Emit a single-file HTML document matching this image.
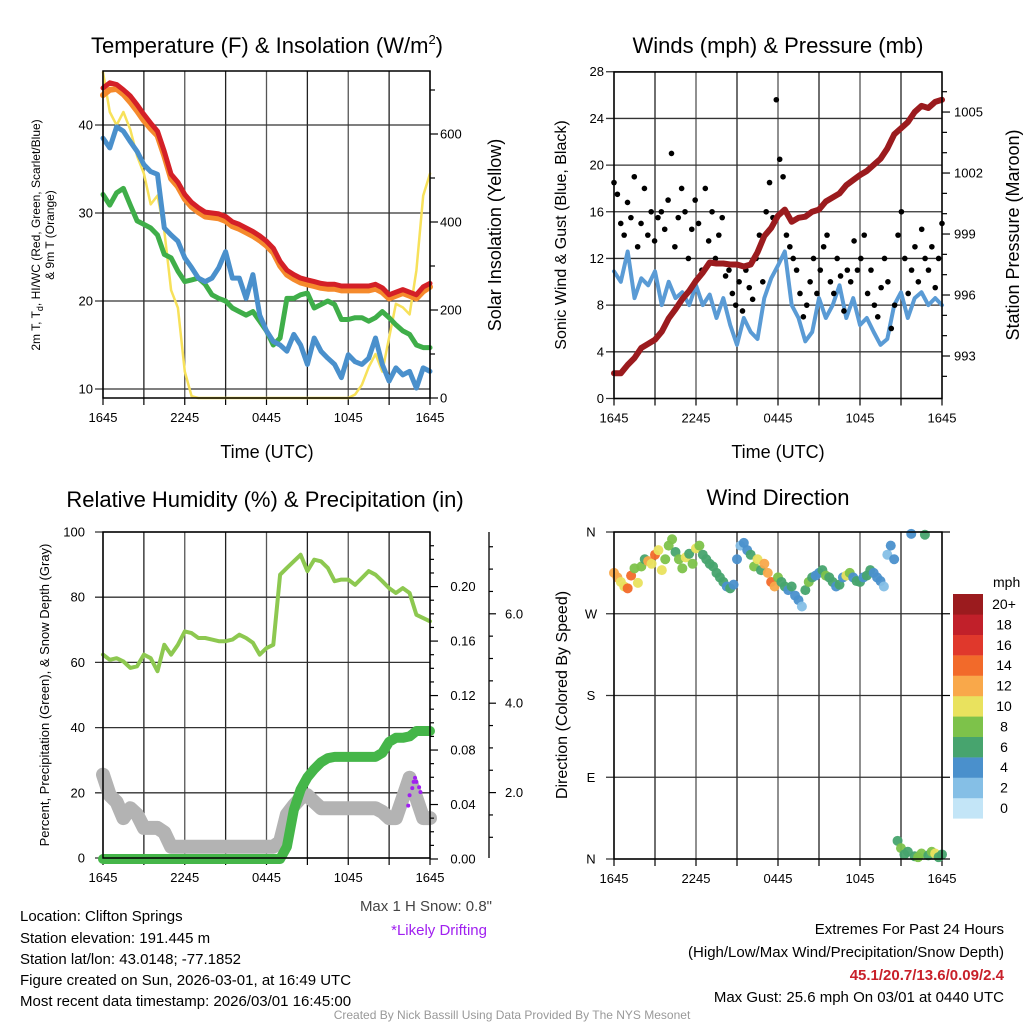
<!DOCTYPE html>
<html><head><meta charset="utf-8">
<style>
html,body{margin:0;padding:0;background:#fff;}
svg{display:block;font-family:"Liberation Sans",Arial,sans-serif;}
</style></head>
<body>
<svg id="fig" width="1024" height="1024" viewBox="0 0 1024 1024" xmlns="http://www.w3.org/2000/svg">
<rect width="1024" height="1024" fill="#fff"/>
<g id="grids"></g>
<g id="series"></g>
<g id="frames"></g>
<g id="texts" font-size="13" fill="#000">
  <text x="267" y="53" font-size="22" text-anchor="middle">Temperature (F) &amp; Insolation (W/m<tspan font-size="13" dy="-9">2</tspan><tspan dy="9">)</tspan></text>
  <text x="778" y="53" font-size="22" text-anchor="middle">Winds (mph) &amp; Pressure (mb)</text>
  <text x="265" y="507" font-size="22" text-anchor="middle">Relative Humidity (%) &amp; Precipitation (in)</text>
  <text x="778" y="505" font-size="22" text-anchor="middle">Wind Direction</text>
  <text x="267" y="458" font-size="18" text-anchor="middle">Time (UTC)</text>
  <text x="778" y="458" font-size="18" text-anchor="middle">Time (UTC)</text>
  <text transform="translate(40,235) rotate(-90)" font-size="12" text-anchor="middle">2m T, T<tspan font-size="9" dy="3">d</tspan><tspan dy="-3">, HI/WC (Red, Green, Scarlet/Blue)</tspan></text>
  <text transform="translate(54,235) rotate(-90)" font-size="12" text-anchor="middle">&amp; 9m T (Orange)</text>
  <text transform="translate(501,235) rotate(-90)" font-size="18" text-anchor="middle">Solar Insolation (Yellow)</text>
  <text transform="translate(566,235) rotate(-90)" font-size="16" text-anchor="middle">Sonic Wind &amp; Gust (Blue, Black)</text>
  <text transform="translate(1019,235) rotate(-90)" font-size="18" text-anchor="middle">Station Pressure (Maroon)</text>
  <text transform="translate(49,695) rotate(-90)" font-size="13" text-anchor="middle">Percent, Precipitation (Green), &amp; Snow Depth (Gray)</text>
  <text transform="translate(567,695) rotate(-90)" font-size="16" text-anchor="middle">Direction (Colored By Speed)</text>
  <text x="993" y="587" font-size="14">mph</text>
  <g font-size="15">
    <text x="20" y="921">Location: Clifton Springs</text>
    <text x="20" y="943">Station elevation: 191.445 m</text>
    <text x="20" y="964">Station lat/lon: 43.0148; -77.1852</text>
    <text x="20" y="985">Figure created on Sun, 2026-03-01, at 16:49 UTC</text>
    <text x="20" y="1006">Most recent data timestamp: 2026/03/01 16:45:00</text>
    <text x="492" y="911" text-anchor="end" fill="#444">Max 1 H Snow: 0.8"</text>
    <text x="487" y="935" text-anchor="end" fill="#a020f0">*Likely Drifting</text>
    <text x="1004" y="934" text-anchor="end">Extremes For Past 24 Hours</text>
    <text x="1004" y="957" text-anchor="end">(High/Low/Max Wind/Precipitation/Snow Depth)</text>
    <text x="1004" y="980" text-anchor="end" fill="#c8202a" font-weight="bold">45.1/20.7/13.6/0.09/2.4</text>
    <text x="1004" y="1002" text-anchor="end">Max Gust: 25.6 mph On 03/01 at 0440 UTC</text>
  </g>
  <text x="512" y="1019" font-size="12" text-anchor="middle" fill="#999">Created By Nick Bassill Using Data Provided By The NYS Mesonet</text>
</g>
</svg>
<script>
// ---- data (half-hourly unless noted) ----
const xTickLabels = ["1645","2245","0445","1045","1645"];
const tempTicks = [10,20,30,40];
const insolTicks = [0,200,400,600];
const windTicks = [0,4,8,12,16,20,24,28];
const presTicks = [993,996,999,1002,1005];
const pctTicks = [0,20,40,60,80,100];
const precipTicks = ["0.00","0.04","0.08","0.12","0.16","0.20"];
const snowTicks = ["2.0","4.0","6.0"];
const dirTicks = ["N","E","S","W","N"];
const speedLabels = ["0","2","4","6","8","10","12","14","16","18","20+"];
const speedColors = ["#c3e5f7","#85bfe6","#4a90cc","#47a46e","#7dc24a","#e9e25e","#f9a84a","#f26a2a","#e0382c","#c1202a","#9b1b1e"];

const tempRed = [44.2,44.8,44.6,44.0,43.3,42.3,41.2,40.2,39.3,37.0,34.4,33.5,32.1,31.2,30.6,30.1,30.0,29.9,29.6,29.0,28.7,28.3,27.9,27.4,26.8,26.0,24.5,23.5,23.0,22.6,22.4,22.2,22.0,21.9,21.9,21.7,21.7,21.7,21.7,21.7,21.9,21.5,20.7,21.0,21.3,21.0,20.7,21.6,22.0];
const temp9m = [43.4,44.0,44.1,43.5,42.6,41.6,40.5,39.6,38.8,36.5,33.9,33.0,31.6,30.7,30.1,29.6,29.5,29.4,29.1,28.5,28.2,27.8,27.4,26.9,26.3,25.5,24.0,23.0,22.5,22.1,21.9,21.7,21.5,21.4,21.4,21.2,21.2,21.2,21.2,21.2,21.4,21.0,20.3,20.6,20.9,20.6,20.3,21.1,21.6];
const windChill = [38.5,37.4,39.8,39.3,38.1,37.0,35.5,34.7,34.4,28.3,27.5,26.8,24.9,23.8,22.6,22.2,22.6,23.8,25.6,22.6,22.6,20.3,23.0,18.4,16.6,15.4,15.0,14.3,16.2,15.0,12.8,15.8,14.3,13.5,12.8,11.3,13.9,13.1,12.8,13.5,15.8,12.8,10.9,12.4,11.6,12.0,10.1,12.4,12.0];
const dewPoint = [32.1,30.9,32.3,32.8,30.9,29.1,28.7,28.3,27.5,25.3,24.9,23.4,22.2,22.4,22.6,21.9,20.7,20.3,20.0,19.2,18.8,18.4,18.8,17.7,16.6,15.0,15.8,20.3,20.3,20.7,20.9,19.2,19.6,20.0,19.6,17.9,17.9,18.1,18.1,17.7,18.1,18.8,18.1,17.3,16.6,16.2,15.0,14.7,14.7];
const insolation = [740,650,620,650,610,550,510,440,460,380,245,205,60,4,0,0,0,0,0,0,0,0,0,0,0,0,0,0,0,0,0,0,0,0,0,0,0,8,30,70,100,60,137,214,206,190,290,460,510];

const windSpeed = [10.9,10,12.6,8.6,10.3,9.7,10.9,8,10,8.6,9.1,8,9.7,8,8.9,6.9,8.6,6.3,4.6,6.9,5.7,5.1,8.6,10.3,11.4,12.6,8,6.9,4.9,5.7,8.6,6.9,8,9.7,6.9,8.6,6.3,6.9,5.7,4.6,5.1,8,9.1,6.9,8.6,9.1,8,8.6,8];
const pressure = [992.15,992.15,992.56,992.9,993.4,993.6,993.8,994.2,994.85,995.3,995.8,996.2,996.7,997.1,997.6,997.55,997.55,997.5,997.5,997.4,997.5,998.1,998.9,999.3,999.9,1000.2,999.6,999.8,999.85,1000.1,1000.2,1000.6,1000.8,1001,1001.4,1001.65,1001.9,1002.1,1002.4,1002.7,1003.2,1003.9,1004.2,1004.5,1005.0,1005.3,1005.2,1005.5,1005.6];
// gusts (15-min)
const gusts = [18.5,17.5,15,14,16.8,15.5,19,13,15,18,14,16,13.5,15.5,16,14.5,17,21,13,15.5,18,16,12,14.5,17,15,11,18,13.5,16,12,14,15.5,10.5,11,9,8,10,7.5,11,9.5,8.5,12,14,10,16,18.5,15.5,25.6,20.5,19,14,13,12,11,9,7,8,10,12,9,11,13,14,10,9,12,10.5,7.5,11,10,13.5,11,12,14,9,11,8,7,9.5,12,10,6,8,14,16,12,9,11,13,10,14.5,12,11,13,9.5,12,15];

const humidity = [62.4,60.8,61.3,60.3,58.3,58.8,62.4,61.3,57.3,65.4,62.4,65.4,69.5,69.0,67.5,67.5,67,66.5,66.5,67,68.5,67.5,66,62.4,64.4,65.4,86.9,89,91,93,88,91.5,91,89,84.9,85.4,85.4,83.8,85.9,88,86.9,84.9,82.8,81.3,82.8,81.3,74.6,73.6,72.6];
const precip = [0,0,0,0,0,0,0,0,0,0,0,0,0,0,0,0,0,0,0,0,0,0,0,0,0,0,0,0.009,0.036,0.051,0.060,0.066,0.071,0.074,0.075,0.075,0.075,0.075,0.075,0.075,0.075,0.078,0.086,0.089,0.089,0.090,0.094,0.094,0.094];
const snowDepth = [2.40,1.94,1.79,1.43,1.65,1.51,1.21,1.21,1.21,1.11,0.79,0.79,0.79,0.79,0.79,0.79,0.79,0.79,0.79,0.79,0.79,0.79,0.79,0.79,0.79,0.79,0.90,1.51,1.71,1.88,1.94,1.79,1.65,1.65,1.65,1.65,1.65,1.65,1.65,1.65,1.65,1.57,1.43,1.43,1.88,2.33,1.88,1.43,1.43];
const driftHours = [22.4,22.5,22.7,22.8,22.9,23.0,23.2,23.3];
const driftSnow = [1.71,1.94,2.10,2.24,2.33,2.24,2.12,2.01];

// wind direction (15-min)
const windDir = [315,310,305,300,298,312,320,304,322,330,328,325,335,340,318,330,345,352,338,330,320,332,336,325,342,345,335,330,325,322,315,310,305,300,298,302,330,345,348,340,335,322,330,318,325,315,305,300,310,305,300,296,300,290,285,278,296,305,310,312,315,318,312,310,305,300,302,310,312,315,310,306,305,310,312,318,315,310,306,300,335,345,330,20,12,5,8,358,3,2,6,357,4,8,6,2,5];
const dirSpeed = [12,13,11,10,14,15,9,10,8,7,12,10,14,11,10,8,9,8,7,9,8,10,7,8,10,8,7,7,7,6,7,6,6,5,6,4,4,3,4,5,7,8,10,7,12,13,15,12,8,7,6,5,6,5,4,3,7,8,6,5,5,6,8,7,6,5,7,4,10,9,5,6,6,5,7,6,4,5,4,3,3,4,5,7,8,7,6,5,7,8,9,6,7,8,10,7,7];

// ---- helpers ----
const NS = "http://www.w3.org/2000/svg";
const G = id => document.getElementById(id);
function mk(tag, attrs, parent){ const e=document.createElementNS(NS,tag); for(const k in attrs) e.setAttribute(k,attrs[k]); parent.appendChild(e); return e; }
const P1={x0:103,x1:430,top:71,bot:398};
const P2={x0:614,x1:942,top:72,bot:398.5};
const P3={x0:103,x1:430,top:532,bot:858};
const P4={x0:614,x1:942,top:532,bot:859};
const xH=(p,h)=>p.x0+h/24*(p.x1-p.x0);
const xI=(p,i,n)=>xH(p,i*24/(n-1));
const yT=v=>389-(v-10)*8.8;
const yW=v=>398-v*0.44;
const yWind=v=>398.5-v*11.67;
const yP=v=>356-(v-993)*20.33;
const yPct=v=>858-v*3.26;
const yPr=v=>859-v*1362;
const ySn=v=>882-v*44.7;
const yDir=v=>859-v/360*327;

function line(p, arr, yf, color, w, name, cap){
  const pts=arr.map((v,i)=>xI(p,i,arr.length).toFixed(1)+","+yf(v).toFixed(1)).join(" ");
  const el=mk("polyline",{points:pts,fill:"none",stroke:color,"stroke-width":w,"stroke-linejoin":"round","stroke-linecap":cap||"round"},G("series"));
  
  
  return el;
}

// ---- grids ----
function grid(p, yVals){
  const g=G("grids");
  for(let k=0;k<=8;k++){ const x=p.x0+k*(p.x1-p.x0)/8;
    const gl=mk("line",{x1:x,x2:x,y1:p.top,y2:p.bot,stroke:(k%2?"#222":"#555"),"stroke-width":1.3},g);
    
    
    const tk=mk("line",{x1:x,x2:x,y1:p.bot,y2:p.bot+7,stroke:"#000","stroke-width":1.2},g);
    
    
  }
  yVals.forEach(y=>{
    const hl=mk("line",{x1:p.x0-8,x2:p.x1,y1:y,y2:y,stroke:"#333","stroke-width":1.3},g);
    
    
  });
  xTickLabels.forEach((t,i)=>{
    const tx=mk("text",{x:xH(p,i*6),y:p.bot+24,"font-size":13,"text-anchor":"middle"},G("texts"));
    tx.textContent=t;
    
    
  });
  const fr=mk("rect",{x:p.x0,y:p.top,width:p.x1-p.x0,height:p.bot-p.top,fill:"none",stroke:"#000","stroke-width":1.5},G("frames"));
  
  
}
function label(x,y,t,anchor,name,color){
  const tx=mk("text",{x:x,y:y+4.5,"font-size":13,"text-anchor":anchor,fill:color||"#000"},G("texts"));
  tx.textContent=t;
  
  
}
function rtick(x,y,len,name){
  const t=mk("line",{x1:x,x2:x+len,y1:y,y2:y,stroke:"#000","stroke-width":1.2},G("frames"));
  
  
}

// panel 1
grid(P1, tempTicks.map(yT));
tempTicks.forEach(v=>label(P1.x0-10,yT(v),String(v),"end","temp-tick-label"));
insolTicks.forEach(v=>label(P1.x1+10,yW(v),String(v),"start","insolation-tick-label"));
for(let v=0;v<=700;v+=100) rtick(P1.x1,yW(v),(v%200?5:8),"insolation-tick");
// panel 2
grid(P2, windTicks.map(yWind));
windTicks.forEach(v=>label(P2.x0-10,yWind(v),String(v),"end","wind-tick-label"));
presTicks.forEach(v=>label(P2.x1+12,yP(v),String(v),"start","pressure-tick-label"));
for(let v=992;v<=1006;v++) rtick(P2.x1,yP(v),(v%3===0?8:5),"pressure-tick");
// panel 3
grid(P3, pctTicks.map(yPct));
pctTicks.forEach(v=>label(P3.x0-18,yPct(v),String(v),"end","percent-tick-label"));
precipTicks.forEach(t=>label(P3.x1+33,yPr(parseFloat(t)),t,"middle","precip-tick-label"));
for(let k=0;k<=23;k++) rtick(P3.x1,yPr(k*0.01),(k%4===0?8:4),"precip-tick");
(function(){
  const ax=mk("line",{x1:489,x2:489,y1:532,y2:858,stroke:"#000","stroke-width":1.3},G("frames"));
  
  
  snowTicks.forEach(t=>label(505,ySn(parseFloat(t)),t,"start","snow-tick-label"));
  for(let k=1;k<=15;k++){ const y=ySn(k*0.5); if(y>=532&&y<=858) rtick(489,y,(k%4===0?7:4),"snow-tick"); }
})();
// panel 4
grid(P4, [0,90,180,270,360].map(yDir));
dirTicks.forEach((t,i)=>label(P4.x0-23,yDir(i*90),t,"middle","direction-tick-label"));
[0,90,180,270,360].forEach(v=>rtick(P4.x1,yDir(v),8,"direction-tick"));

// ---- series ----
line(P1, insolation, yW, "#f7e15a", 2.5, "insolation-line");
line(P1, dewPoint, yT, "#3fae49", 5, "dewpoint-line");
line(P1, windChill, yT, "#4a90cc", 5, "windchill-line");
line(P1, temp9m, yT, "#f58a2c", 6, "temp-9m-line");
line(P1, tempRed, yT, "#d42027", 5, "temp-2m-line");

line(P2, windSpeed, yWind, "#5a9bd5", 4, "wind-speed-line");
gusts.forEach((v,i)=>{
  const c=mk("circle",{cx:xI(P2,i,gusts.length),cy:yWind(v),r:2.8,fill:"#000"},G("series"));
  
  
});
line(P2, pressure, yP, "#9b1b1e", 6, "pressure-line");

line(P3, humidity, yPct, "#8dc850", 4, "humidity-line");
line(P3, snowDepth, ySn, "#b3b3b3", 14, "snow-depth-line");
line(P3, precip, yPr, "#45b649", 10, "precip-line");
driftHours.forEach((h,i)=>{
  const c=mk("circle",{cx:xH(P3,h),cy:ySn(driftSnow[i]),r:2,fill:"#a020f0"},G("series"));
  
  
});

windDir.forEach((d,i)=>{
  const b=Math.min(10,Math.floor(dirSpeed[i]/2));
  const c=mk("circle",{cx:xI(P4,i,windDir.length),cy:yDir(d),r:5,fill:speedColors[b],"fill-opacity":0.95},G("series"));
  
  
});
// colorbar
speedLabels.forEach((t,i)=>{
  const k=speedLabels.length-1-i;
  const y=594+k*20.4;
  const r=mk("rect",{x:953,y:y,width:30,height:20.6,fill:speedColors[i]},G("frames"));
  
  
  const tx=mk("text",{x:1004,y:y+15,"font-size":14,"text-anchor":"middle"},G("texts"));
  tx.textContent=t;
  
  
});
</script>
</body></html>
